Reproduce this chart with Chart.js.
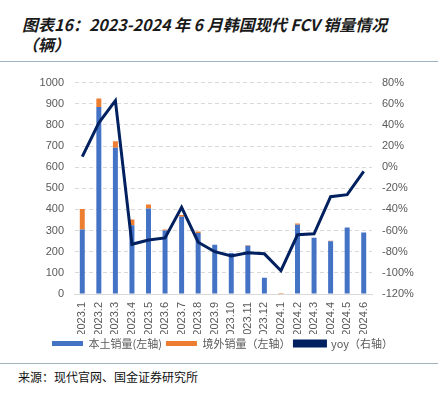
<!DOCTYPE html>
<html>
<head>
<meta charset="utf-8">
<script src="https://cdn.jsdelivr.net/npm/chart.js@4"></script>
<style>
  body { margin: 0; width: 445px; height: 396px; background: #fff; position: relative; overflow: hidden; font-family: "Noto Sans CJK SC", sans-serif; }
  #title { position: absolute; left: 22px; top: 14px; font-size: 16px; line-height: 20px; font-weight: bold; font-style: italic; color: #1a1a1a; }
  .rule { position: absolute; left: 0; width: 438px; height: 0; border-top: 1.5px solid #9fb3c0; }
  #source { position: absolute; left: 18px; top: 369px; font-size: 12px; line-height: 16px; color: #111; }
  #wrap { position: absolute; left: 0; top: 66px; width: 445px; height: 295px; }
</style>
</head>
<body>
<div id="title">图表16：2023-2024 年 6 月韩国现代 FCV 销量情况<br>（辆）</div>
<div class="rule" style="top:61px"></div>
<div id="wrap"><canvas id="myChart"></canvas></div>
<div class="rule" style="top:363px"></div>
<div id="source">来源：现代官网、国金证券研究所</div>
<script>
const months = ['2023.1', '2023.2', '2023.3', '2023.4', '2023.5', '2023.6', '2023.7', '2023.8', '2023.9',
  '2023.10', '2023.11', '2023.12', '2024.1', '2024.2', '2024.3', '2024.4', '2024.5', '2024.6']
// domestic sales (left axis)
const domestic = [305, 885, 692, 325, 405, 300, 366, 288, 233, 194, 228, 77, 0, 327, 266, 249, 315, 291]
// overseas sales (left axis)
const overseas = [97, 40, 30, 28, 18, 5, 8, 8, 0, 0, 3, 0, 5, 6, 0, 3, 0, 0]
// yoy % (right axis)
const yoy = [10, 42, 63, -73, -69, -67, -38, -71, -80, -84, -81, -82, -98, -64, -63, -28, -26, -4]

const tickFont = { family: 'Liberation Sans', size: 11 }
const tickColor = '#595959'

const config = {
  data: {
    labels: months,
    datasets: [
      {
        type: 'bar',
        label: '本土销量(左轴)',
        data: domestic,
        backgroundColor: '#4472C4',
        stack: 'sales',
        yAxisID: 'y',
        order: 1,
        categoryPercentage: 0.6,
        barPercentage: 0.5,
      },
      {
        type: 'bar',
        label: '境外销量（左轴）',
        data: overseas,
        backgroundColor: '#ED7D31',
        stack: 'sales',
        yAxisID: 'y',
        order: 1,
        categoryPercentage: 0.6,
        barPercentage: 0.5,
      },
      {
        type: 'line',
        label: 'yoy（右轴）',
        data: yoy,
        borderColor: '#002060',
        backgroundColor: '#002060',
        borderWidth: 3,
        pointRadius: 0,
        tension: 0,
        yAxisID: 'y1',
        order: 0,
      },
    ],
  },
  options: {
    responsive: true,
    maintainAspectRatio: false,
    animation: false,
    layout: { padding: { top: 14, bottom: 2, left: 0, right: 0 } },
    plugins: {
      tooltip: { enabled: false },
      legend: {
        position: 'bottom',
        labels: {
          boxWidth: 31,
          boxHeight: 5,
          padding: 4,
          color: '#595959',
          font: { family: 'Noto Sans CJK SC', size: 11 },
          sort: (a, b) => a.datasetIndex - b.datasetIndex,
        },
      },
    },
    scales: {
      x: {
        stacked: true,
        grid: { display: false, drawTicks: false },
        border: { color: '#d9d9d9', width: 1 },
        ticks: {
          color: tickColor,
          font: tickFont,
          minRotation: 90,
          maxRotation: 90,
          padding: 8,
          crossAlign: 'far',
          autoSkip: false,
        },
        afterFit: (scale) => { scale.height = 40 },
      },
      y: {
        stacked: true,
        position: 'left',
        min: 0,
        max: 1000,
        grid: { color: '#d9d9d9', drawTicks: false },
        border: { display: true, color: 'rgba(0,0,0,0)', dash: [4, 3] },
        ticks: { stepSize: 100, color: tickColor, font: tickFont, padding: 10, callback: (v) => String(v) },
        afterFit: (scale) => { scale.width = 74 },
      },
      y1: {
        position: 'right',
        min: -120,
        max: 80,
        grid: { display: false, drawTicks: false },
        border: { display: false },
        ticks: { stepSize: 20, color: tickColor, font: tickFont, padding: 10, callback: (v) => v + '%' },
        afterFit: (scale) => { scale.width = 73 },
      },
    },
  },
}

const myChart = new Chart(document.getElementById('myChart'), config)
</script>
</body>
</html>
